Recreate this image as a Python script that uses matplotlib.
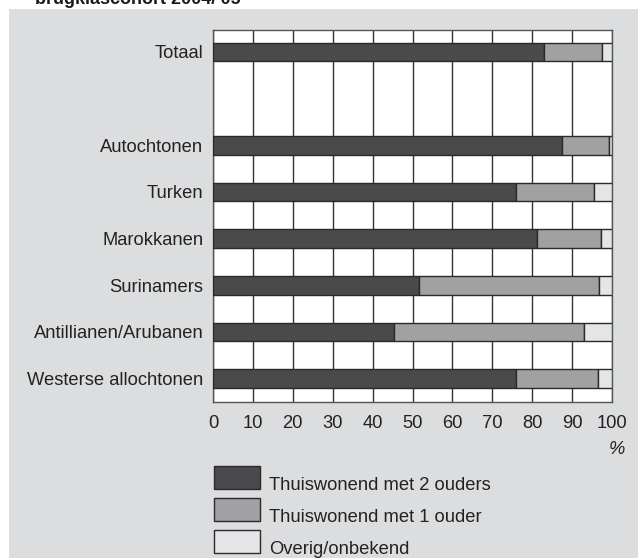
import matplotlib.pyplot as plt
from matplotlib.patches import Rectangle

plt.rcParams['font.family'] = ['Liberation Sans', 'DejaVu Sans']

categories = ['Totaal', 'Autochtonen', 'Turken', 'Marokkanen', 'Surinamers',
              'Antillianen/Arubanen', 'Westerse allochtonen']
positions = [0, 2, 3, 4, 5, 6, 7]
twee_ouders = [83.0, 87.5, 76.0, 81.3, 51.6, 45.4, 76.0]
een_ouder = [14.6, 11.7, 19.4, 15.9, 45.1, 47.7, 20.4]
overig = [2.4, 0.8, 4.6, 2.8, 3.3, 6.9, 3.6]
series_labels = ['Thuiswonend met 2 ouders', 'Thuiswonend met 1 ouder', 'Overig/onbekend']
colors = ['#4a4a4c', '#a0a1a3', '#e4e5e6']
xticks = [0, 10, 20, 30, 40, 50, 60, 70, 80, 90, 100]

W, H = 638, 558
fs = 13.2
fig = plt.figure(figsize=(W / 100, H / 100), dpi=100, facecolor='white')

# grey panel behind the chart
fig.patches.append(Rectangle((9 / W, 0), 1 - 9 / W, 1 - 9 / H, transform=fig.transFigure,
                             facecolor='#dcdddf', edgecolor='none', zorder=-5))
# title, cut off at the top edge as in the source
fig.text(35 / W, 1 - 4 / H, "brugklascohort 2004/'05", fontsize=13, fontweight='bold',
         color='#1a1a1a', va='baseline', ha='left')

ax = fig.add_axes([213 / W, 1 - 402 / H, (612 - 213) / W, (402 - 30) / H])
ax.set_zorder(1)
ax.set_facecolor('white')

h = 0.4
left = [0] * len(positions)
for vals, col in zip([twee_ouders, een_ouder, overig], colors):
    ax.barh(positions, vals, left=left, height=h, color=col, edgecolor='#2a2a2a',
            linewidth=1.0, zorder=3)
    left = [a + b for a, b in zip(left, vals)]

ax.set_xlim(0, 100)
ax.set_ylim(7.5, -0.47)
ax.set_xticks(xticks)
ax.set_xticklabels([str(t) for t in xticks])
ax.set_yticks(positions)
ax.set_yticklabels(categories)
ax.tick_params(axis='both', length=0, labelsize=fs, colors='#222222')
ax.tick_params(axis='x', pad=9)
ax.tick_params(axis='y', pad=7)
ax.grid(axis='x', color='#333333', linewidth=1.0, zorder=1)
for s in ax.spines.values():
    s.set_color('#555555')
    s.set_linewidth(1.0)

fig.text(617 / W, 1 - 449 / H, '%', fontsize=fs, style='italic', ha='center', va='center',
         color='#222222')

# legend
legend_y = [477, 509, 541]
for y, col, lab in zip(legend_y, colors, series_labels):
    fig.patches.append(Rectangle((214 / W, 1 - (y + 11.5) / H), 46 / W, 23 / H,
                                 transform=fig.transFigure, facecolor=col,
                                 edgecolor='#2a2a2a', linewidth=1.0, zorder=2))
    fig.text(269 / W, 1 - (y + 8) / H, lab, fontsize=fs, ha='left', va='center',
             color='#222222')

fig.savefig('out.png', dpi=100, facecolor=fig.get_facecolor())
